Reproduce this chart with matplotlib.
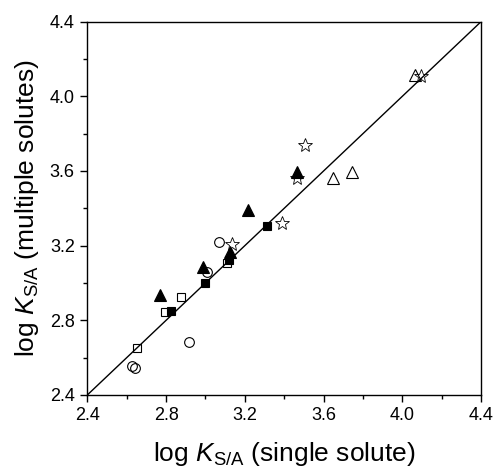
"""
plot.py
log K_S/A (multiple solutes) vs log K_S/A (single solute), with 1:1 line.
Output : out.png
"""

import matplotlib
matplotlib.use("Agg")
import matplotlib.pyplot as plt
from matplotlib.ticker import MultipleLocator

# ---------------------------------------------------------------------------
# Data
# ---------------------------------------------------------------------------
open_circle_x = [2.626, 2.642, 2.917, 3.007, 3.069]
open_circle_y = [2.557, 2.543, 2.682, 3.060, 3.221]

open_square_x = [2.654, 2.795, 2.876, 3.108]
open_square_y = [2.650, 2.843, 2.927, 3.109]

filled_square_x = [2.824, 2.998, 3.122, 3.312]
filled_square_y = [2.852, 3.000, 3.123, 3.307]

filled_tri_x = [2.769, 2.986, 3.125, 3.215, 3.467]
filled_tri_y = [2.937, 3.085, 3.164, 3.391, 3.594]

star_x = [3.134, 3.391, 3.467, 3.506, 4.094]
star_y = [3.207, 3.320, 3.563, 3.739, 4.109]

open_tri_x = [3.647, 3.743, 4.065]
open_tri_y = [3.561, 3.596, 4.114]

LIMITS = [2.4, 4.4]
TICKS = [2.4, 2.8, 3.2, 3.6, 4.0, 4.4]

# ---------------------------------------------------------------------------
# Style
# ---------------------------------------------------------------------------
plt.rcParams["font.family"] = ["Liberation Sans", "DejaVu Sans"]
plt.rcParams["mathtext.fontset"] = "custom"
plt.rcParams["mathtext.rm"] = "Liberation Sans"
plt.rcParams["mathtext.it"] = "Liberation Sans:italic"

fig = plt.figure(figsize=(4.95, 4.68), dpi=100)
ax = fig.add_axes([0.1764, 0.156, 0.7954, 0.7977])

# 1:1 line
ax.plot(LIMITS, LIMITS, color="black", linewidth=1.0, zorder=1)

common = dict(linestyle="none", markeredgecolor="black", markeredgewidth=0.8, zorder=3)
ax.plot(open_circle_x, open_circle_y, marker="o", markersize=7,
        markerfacecolor="none", **common)
ax.plot(open_square_x, open_square_y, marker="s", markersize=6,
        markerfacecolor="none", **common)
ax.plot(filled_square_x, filled_square_y, marker="s", markersize=6,
        markerfacecolor="black", **common)
ax.plot(filled_tri_x, filled_tri_y, marker="^", markersize=8,
        markerfacecolor="black", **common)
ax.plot(star_x, star_y, marker="*", markersize=10,
        markerfacecolor="none", markeredgewidth=0.6, linestyle="none",
        markeredgecolor="black", zorder=3)
ax.plot(open_tri_x, open_tri_y, marker="^", markersize=9,
        markerfacecolor="none", **common)

ax.set_xlim(LIMITS)
ax.set_ylim(LIMITS)
ax.set_xticks(TICKS)
ax.set_yticks(TICKS)
ax.set_xticklabels([f"{t:.1f}" for t in TICKS])
ax.set_yticklabels([f"{t:.1f}" for t in TICKS])
ax.xaxis.set_minor_locator(MultipleLocator(0.2))
ax.yaxis.set_minor_locator(MultipleLocator(0.2))
ax.tick_params(which="major", direction="out", length=5, width=1.0,
               labelsize=13, pad=4)
ax.tick_params(which="minor", direction="out", length=3, width=1.0)
ax.tick_params(top=False, right=False, which="both")

for sp in ax.spines.values():
    sp.set_linewidth(1.0)

ax.set_xlabel(r"log $K_{\mathrm{S/A}}$ (single solute)", fontsize=19, labelpad=11)
ax.set_ylabel(r"log $K_{\mathrm{S/A}}$ (multiple solutes)", fontsize=19, labelpad=6)

fig.savefig("out.png", dpi=100)
